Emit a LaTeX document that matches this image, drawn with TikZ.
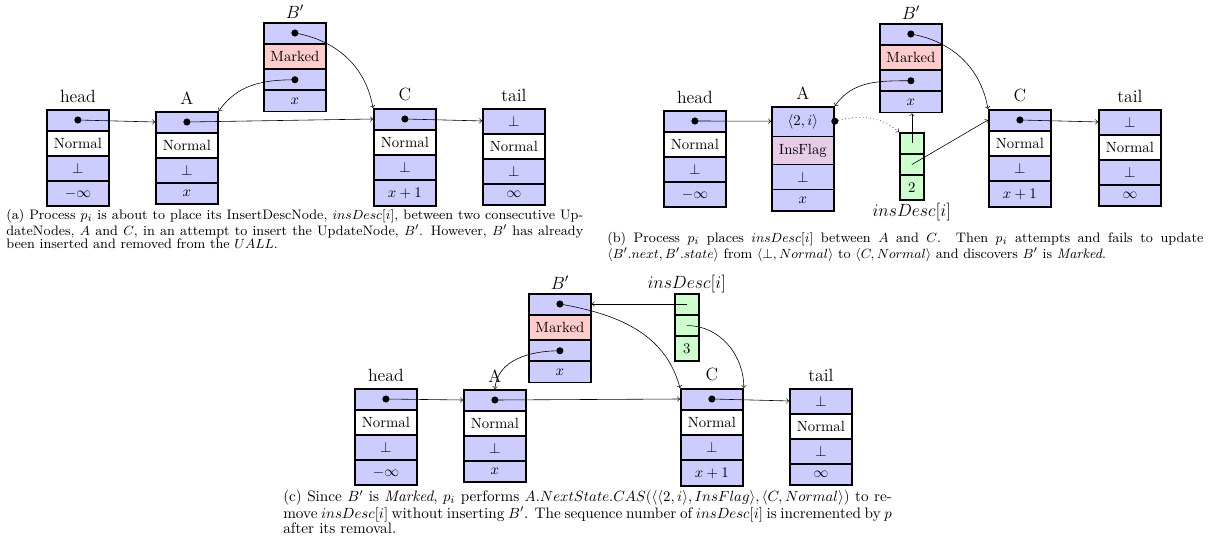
\documentclass[tikz,border=0pt]{standalone}
\usepackage{tikz}
\usetikzlibrary{calc,positioning,shapes.multipart}

\definecolor{flagfill}{RGB}{230,204,230}

\tikzset{
  rec/.style={draw,very thick,rectangle split,rectangle split parts=4,minimum width=42pt,inner xsep=2pt,inner ysep=4.4pt,anchor=north west,rectangle split part fill={blue!20,white,blue!20,blue!20}},
  descrec/.style={draw,very thick,rectangle split,rectangle split parts=3,minimum width=16.2pt,inner xsep=2pt,inner ysep=4.4pt,anchor=north west,fill=green!20},
  ptrdot/.style={circle,fill,inner sep=0pt,minimum size=4.8pt},
  lbl/.style={label distance=1pt,font=\large},
  captxt/.style={anchor=north west,inner sep=0pt,align=justify,font=\fontsize{9.3}{8.8}\selectfont},
}

\begin{document}
\begin{tikzpicture}[x=0.677pt,y=0.677pt]
  \useasboundingbox (0,0) rectangle (1211,546);

  % (a)
  \node[rec,label={[lbl]above:head}] (heada) at (46,437) {\vphantom{x}\nodepart{two}Normal\nodepart{three}$\bot$\nodepart{four}$-\infty$};
  \node[rec,label={[lbl]above:A}] (Aa) at (155,435) {\vphantom{x}\nodepart{two}Normal\nodepart{three}$\bot$\nodepart{four}$x$};
  \node[rec,rectangle split part fill={blue!20,red!20,blue!20,blue!20},label={[lbl,label distance=-1pt]above:$B'$}] (Ba) at (263,524) {\vphantom{x}\nodepart{two}Marked\nodepart{three}\vphantom{x}\nodepart{four}$x$};
  \node[rec,label={[lbl]above:C}] (Ca) at (373,438) {\vphantom{x}\nodepart{two}Normal\nodepart{three}$\bot$\nodepart{four}$x+1$};
  \node[rec,label={[lbl]above:tail}] (taila) at (482,438) {$\bot$\nodepart{two}Normal\nodepart{three}$\bot$\nodepart{four}$\infty$};

  \node[ptrdot] (pheada) at ($(heada.north)!.5!(heada.text split)$) {};
  \node[ptrdot] (pAa) at ($(Aa.north)!.5!(Aa.text split)$) {};
  \node[ptrdot] (pBa) at ($(Ba.north)!.5!(Ba.text split)$) {};
  \node[ptrdot] (qBa) at ($(Ba.two split)!.5!(Ba.three split)$) {};
  \node[ptrdot] (pCa) at ($(Ca.north)!.5!(Ca.text split)$) {};

  \draw[->] (pheada.center) -- ($(Aa.north west)!.5!(Aa.text split west)$);
  \draw[->] (pAa.center) -- ($(Ca.north west)!.5!(Ca.text split west)$);
  \draw[->] (pCa.center) -- ($(taila.north west)!.5!(taila.text split west)$);
  \draw[->] (pBa.center) to[out=-10,in=100] (Ca.north west);
  \draw[->] (qBa.center) to[out=180,in=55] (Aa.north east);

  \node[captxt,text width=390.6pt] (capa) at (6,337) {(a) Process $p_i$ is about to place its InsertDescNode, $insDesc[i]$, between two consecutive Up-\linebreak dateNodes, $A$ and $C$, in an attempt to insert the UpdateNode, $B'$. However, $B'$ has already\linebreak been inserted and removed from the $UALL$.};

  % (b)
  \node[rec,label={[lbl]above:head}] (headb) at (663,436) {\vphantom{x}\nodepart{two}Normal\nodepart{three}$\bot$\nodepart{four}$-\infty$};
  \node[rec,rectangle split part fill={blue!20,flagfill,blue!20,blue!20},label={[lbl]above:A}] (Ab) at (771,440) {$\langle 2,i\rangle$\nodepart{two}InsFlag\nodepart{three}$\bot$\nodepart{four}$x$};
  \node[rec,rectangle split part fill={blue!20,red!20,blue!20,blue!20},label={[lbl,label distance=-1pt]above:$B'$}] (Bb) at (879,523) {\vphantom{x}\nodepart{two}Marked\nodepart{three}\vphantom{x}\nodepart{four}$x$};
  \node[descrec,label={[lbl,label distance=-2pt]below:{$insDesc[i]$}}] (insb) at (899,414) {\vphantom{x}\nodepart{two}\vphantom{x}\nodepart{three}2};
  \node[rec,label={[lbl]above:C}] (Cb) at (988,437) {\vphantom{x}\nodepart{two}Normal\nodepart{three}$\bot$\nodepart{four}$x+1$};
  \node[rec,label={[lbl]above:tail}] (tailb) at (1098,437) {$\bot$\nodepart{two}Normal\nodepart{three}$\bot$\nodepart{four}$\infty$};

  \node[ptrdot] (pheadb) at ($(headb.north)!.5!(headb.text split)$) {};
  \node[ptrdot] (pAb) at ($(Ab.north east)!.5!(Ab.text split east)$) {};
  \node[ptrdot] (pBb) at ($(Bb.north)!.5!(Bb.text split)$) {};
  \node[ptrdot] (qBb) at ($(Bb.two split)!.5!(Bb.three split)$) {};
  \node[ptrdot] (pCb) at ($(Cb.north)!.5!(Cb.text split)$) {};
  \coordinate (insb1) at ($(insb.north)!.5!(insb.text split)$);
  \coordinate (insb2) at ($(insb.text split)!.5!(insb.two split)$);

  \draw[->] (pheadb.center) -- ($(Ab.north west)!.5!(Ab.text split west)$);
  \draw[->,dotted] (pAb.center) to[out=15,in=140] (insb.north west);
  \draw[->] (pBb.center) to[out=-10,in=100] (Cb.north west);
  \draw[->] (qBb.center) to[out=180,in=55] (Ab.north east);
  \draw[->] (insb1) -- (insb1 |- Bb.south);
  \draw[->] (insb2) -- ($(Cb.north west)!.5!(Cb.text split west)$);
  \draw[->] (pCb.center) -- ($(tailb.north west)!.5!(tailb.text split west)$);

  \node[captxt,text width=403.5pt] (capb) at (607,314) {(b) Process $p_i$ places $insDesc[i]$ between $A$ and $C$. Then $p_i$ attempts and fails to update\linebreak $\langle B'.next, B'.state\rangle$ from $\langle \bot, Normal\rangle$ to $\langle C, Normal\rangle$ and discovers $B'$ is \emph{Marked}.};

  % (c)
  \node[rec,label={[lbl]above:head}] (headc) at (354,158) {\vphantom{x}\nodepart{two}Normal\nodepart{three}$\bot$\nodepart{four}$-\infty$};
  \node[rec,label={[lbl]above:A}] (Ac) at (463,157) {\vphantom{x}\nodepart{two}Normal\nodepart{three}$\bot$\nodepart{four}$x$};
  \node[rec,rectangle split part fill={blue!20,red!20,blue!20,blue!20},label={[lbl,label distance=-1pt]above:$B'$}] (Bc) at (528,253) {\vphantom{x}\nodepart{two}Marked\nodepart{three}\vphantom{x}\nodepart{four}$x$};
  \node[descrec,label={[lbl,label distance=-3.5pt]above:{$insDesc[i]$}}] (insc) at (674,253) {\vphantom{x}\nodepart{two}\vphantom{x}\nodepart{three}3};
  \node[rec,label={[lbl]above:C}] (Cc) at (680,158) {\vphantom{x}\nodepart{two}Normal\nodepart{three}$\bot$\nodepart{four}$x+1$};
  \node[rec,label={[lbl]above:tail}] (tailc) at (789,158) {$\bot$\nodepart{two}Normal\nodepart{three}$\bot$\nodepart{four}$\infty$};

  \node[ptrdot] (pheadc) at ($(headc.north)!.5!(headc.text split)$) {};
  \node[ptrdot] (pAc) at ($(Ac.north)!.5!(Ac.text split)$) {};
  \node[ptrdot] (pBc) at ($(Bc.north)!.5!(Bc.text split)$) {};
  \node[ptrdot] (qBc) at ($(Bc.two split)!.5!(Bc.three split)$) {};
  \node[ptrdot] (pCc) at ($(Cc.north)!.5!(Cc.text split)$) {};
  \coordinate (insc1) at ($(insc.north)!.5!(insc.text split)$);
  \coordinate (insc2) at ($(insc.text split)!.5!(insc.two split)$);

  \draw[->] (pheadc.center) -- ($(Ac.north west)!.5!(Ac.text split west)$);
  \draw[->] (pAc.center) -- ($(Cc.north west)!.5!(Cc.text split west)$);
  \draw[->] (pCc.center) -- ($(tailc.north west)!.5!(tailc.text split west)$);
  \draw[->] (pBc.center) to[out=-10,in=105] (Cc.north west);
  \draw[->] (qBc.center) to[out=180,in=85] (Ac.north);
  \draw[->] (insc1) -- ($(Bc.north east)!.5!(Bc.text split east)$);
  \draw[->] (insc2) to[out=0,in=90] (Cc.north east);

  \node[captxt,text width=412pt,font=\fontsize{10.3}{8.8}\selectfont] (capc) at (283,56) {(c) Since $B'$ is \emph{Marked}, $p_i$ performs $A.NextState.CAS(\langle\langle 2,i\rangle, InsFlag\rangle, \langle C, Normal\rangle)$ to re-\linebreak move $insDesc[i]$ without inserting $B'$. The sequence number of $insDesc[i]$ is incremented by $p$\linebreak after its removal.};
\end{tikzpicture}
\end{document}
